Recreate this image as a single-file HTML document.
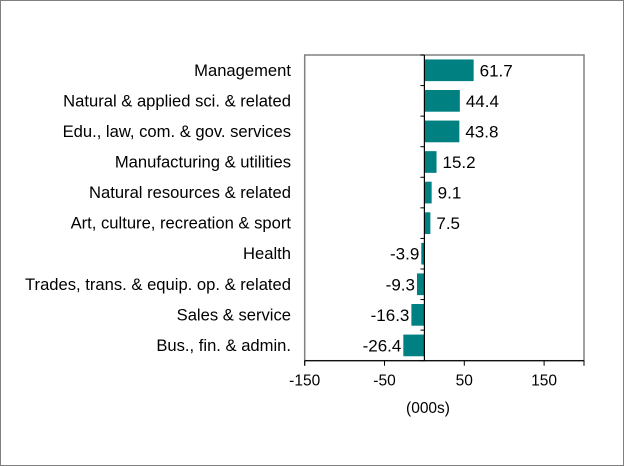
<!DOCTYPE html>
<html><head><meta charset="utf-8"><style>
body{margin:0;background:#fff}
svg{display:block;font-family:"Liberation Sans",Arial,sans-serif}
</style></head><body>
<svg id="chart" width="624" height="466" viewBox="0 0 624 466" xmlns="http://www.w3.org/2000/svg">
<rect x="0.5" y="0.5" width="623" height="465" fill="#fff" stroke="#808080"/>
<rect x="304.7" y="55" width="279.3" height="305.7" fill="#fff" stroke="#808080" stroke-width="1.5"/>
<g id="bars"></g>
<g id="axes"></g>
<text x="428" y="413" font-size="15.5" text-anchor="middle" fill="#000">(000s)</text>
</svg>
<script>
const categories=["Management","Natural & applied sci. & related","Edu., law, com. & gov. services","Manufacturing & utilities","Natural resources & related","Art, culture, recreation & sport","Health","Trades, trans. & equip. op. & related","Sales & service","Bus., fin. & admin."];
const values=[61.7,44.4,43.8,15.2,9.1,7.5,-3.9,-9.3,-16.3,-26.4];
const valueLabels=["61.7","44.4","43.8","15.2","9.1","7.5","-3.9","-9.3","-16.3","-26.4"];
const xTicks=[-150,-50,50,150];
const xMin=-150,xMax=200;
const L=304.7,R=584,T=55,B=360.7;
const NS="http://www.w3.org/2000/svg";
const x=v=>L+(v-xMin)/(xMax-xMin)*(R-L);
const band=(B-T)/categories.length;
const yc=i=>T+band*(i+0.5);
const bars=document.getElementById('bars'),axes=document.getElementById('axes');
function mk(tag,attrs,parent){const e=document.createElementNS(NS,tag);for(const k in attrs)e.setAttribute(k,attrs[k]);parent.appendChild(e);return e;}
const bh=21.7;
categories.forEach((c,i)=>{
  const v=values[i];
  const r=mk('rect',{x:Math.min(x(0),x(v)),y:yc(i)-bh/2,width:Math.abs(x(v)-x(0)),height:bh,fill:'#008080'},bars);
  
  
  const t=mk('text',{x:v>=0?x(v)+6:x(v)-2,y:yc(i)+6,'font-size':17,'text-anchor':v>=0?'start':'end',fill:'#000'},bars);
  t.textContent=valueLabels[i];
  
  
  const lb=mk('text',{x:291,y:yc(i)+5.5,'font-size':16.6,'text-anchor':'end',fill:'#000'},axes);
  lb.textContent=c;
  
  
});
const zl=mk('line',{x1:x(0),x2:x(0),y1:T,y2:B,stroke:'#000','stroke-width':1.2},axes);


for(let i=0;i<=categories.length;i++){
  const tk=mk('line',{x1:x(0)-4,x2:x(0),y1:T+band*i,y2:T+band*i,stroke:'#000'},axes);
  
  
}
const xa=mk('line',{x1:L,x2:R,y1:B,y2:B,stroke:'#000','stroke-width':1.2},axes);


xTicks.forEach(v=>{
  const tk=mk('line',{x1:x(v),x2:x(v),y1:B,y2:B+5,stroke:'#000'},axes);
  
  
  const t=mk('text',{x:x(v),y:B+25,'font-size':15.5,'text-anchor':'middle',fill:'#000'},axes);
  t.textContent=v;
  
  
});
[x(xMin),x(xMax)].forEach(px=>{const tk=mk('line',{x1:px,x2:px,y1:B,y2:B+5,stroke:'#000'},axes);
  
  });
</script>
</body></html>
